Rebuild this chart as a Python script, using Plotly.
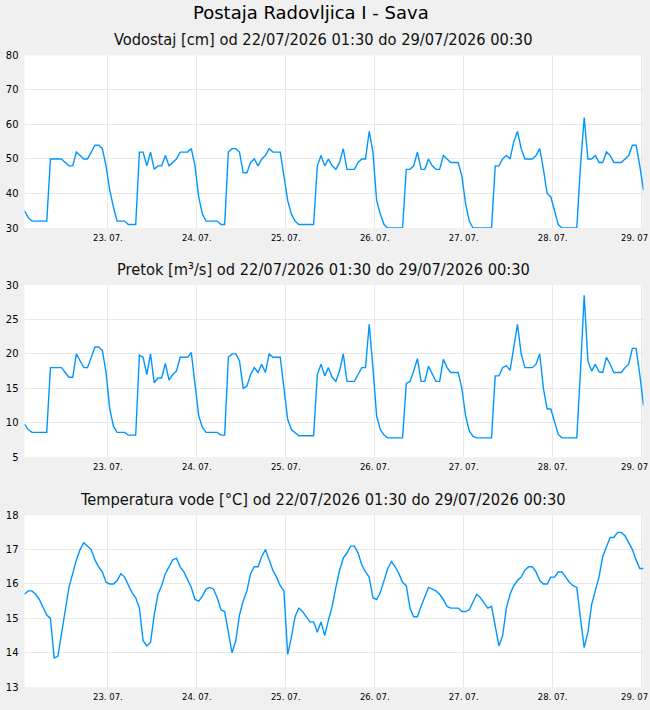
import pandas as pd
import plotly.graph_objects as go

# ---------------- data (hourly, 22/07/2026 01:30 .. 29/07/2026 00:30) ----------------
start_time = "2026-07-22 01:30"
end_time = "2026-07-29 00:30"

vodostaj_cm = [
    35, 33, 32, 32, 32, 32, 32, 50, 50, 50, 50, 49, 48, 48, 52, 51, 50, 50, 52, 54,
    54, 53, 48, 41, 36, 32, 32, 32, 31, 31, 31, 52, 52, 48, 52, 47, 48, 48, 51, 48,
    49, 50, 52, 52, 52, 53, 48, 39, 34, 32, 32, 32, 32, 31, 31, 52, 53, 53, 52, 46,
    46, 49, 50, 48, 50, 51, 53, 52, 52, 52, 45, 38, 34, 32, 31, 31, 31, 31, 31, 48,
    51, 48, 50, 48, 47, 49, 53, 47, 47, 47, 49, 50, 50, 58, 52, 38, 34, 31, 30, 30,
    30, 30, 30, 47, 47, 48, 52, 47, 47, 50, 48, 47, 47, 51, 50, 49, 49, 49, 45, 37,
    32, 30, 30, 30, 30, 30, 30, 48, 48, 50, 51, 50, 55, 58, 53, 50, 50, 50, 51, 53,
    47, 40, 39, 35, 31, 30, 30, 30, 30, 30, 48, 62, 50, 50, 51, 49, 49, 52, 51, 49,
    49, 49, 50, 51, 54, 54, 48, 41,
]

pretok_m3s = [
    9.8, 9.0, 8.6, 8.6, 8.6, 8.6, 8.6, 18.0, 18.0, 18.0, 18.0, 17.3, 16.6, 16.6, 20.0, 19.0, 18.0, 18.0, 19.5, 21.0,
    21.0, 20.5, 17.3, 12.0, 9.5, 8.6, 8.6, 8.6, 8.2, 8.2, 8.2, 19.8, 19.5, 17.0, 20.0, 15.8, 16.5, 16.5, 18.6, 16.2,
    17.0, 17.5, 19.5, 19.5, 19.5, 20.2, 16.0, 11.0, 9.3, 8.6, 8.6, 8.6, 8.6, 8.2, 8.2, 19.5, 20.0, 20.0, 19.0, 15.0,
    15.3, 17.0, 18.0, 17.3, 18.5, 17.3, 20.0, 19.5, 19.5, 19.5, 15.0, 10.5, 9.0, 8.5, 8.1, 8.1, 8.1, 8.1, 8.1, 17.0,
    18.5, 16.8, 18.0, 16.6, 16.0, 17.5, 20.0, 16.0, 16.0, 16.0, 17.0, 18.0, 18.0, 24.3, 18.0, 11.0, 9.0, 8.2, 7.8, 7.8,
    7.8, 7.8, 7.8, 15.7, 16.0, 17.5, 19.3, 16.0, 16.0, 18.2, 17.0, 16.0, 16.0, 19.2, 18.0, 17.3, 17.3, 17.3, 15.0, 11.0,
    8.8, 8.0, 7.8, 7.8, 7.8, 7.8, 7.8, 16.8, 16.8, 18.0, 18.3, 17.6, 21.0, 24.3, 20.0, 18.0, 18.0, 18.0, 18.5, 20.0,
    15.0, 12.0, 12.0, 10.0, 8.3, 7.8, 7.8, 7.8, 7.8, 7.8, 17.5, 28.5, 19.0, 17.5, 18.5, 17.4, 17.3, 19.5, 18.5, 17.3,
    17.3, 17.3, 18.0, 18.5, 20.8, 20.8, 17.0, 12.5,
]

temperatura_c = [
    15.7, 15.8, 15.8, 15.7, 15.55, 15.3, 15.1, 15.0, 13.85, 13.9, 14.6, 15.3, 15.9, 16.3, 16.7, 17.0, 17.2, 17.1, 17.0, 16.7,
    16.5, 16.35, 16.05, 16.0, 16.0, 16.1, 16.3, 16.2, 15.95, 15.75, 15.6, 15.3, 14.35, 14.2, 14.3, 15.1, 15.7, 15.95, 16.3, 16.5,
    16.7, 16.75, 16.5, 16.35, 16.1, 15.9, 15.55, 15.5, 15.65, 15.85, 15.9, 15.85, 15.6, 15.25, 15.2, 14.6, 14.0, 14.35, 15.1, 15.5,
    15.8, 16.3, 16.5, 16.5, 16.8, 17.0, 16.7, 16.4, 16.2, 15.95, 15.8, 13.95, 14.45, 15.05, 15.3, 15.2, 15.05, 14.9, 14.9, 14.6,
    14.9, 14.5, 14.95, 15.35, 15.9, 16.4, 16.75, 16.9, 17.1, 17.1, 16.9, 16.55, 16.35, 16.2, 15.6, 15.55, 15.75, 16.1, 16.45, 16.65,
    16.5, 16.3, 16.05, 15.95, 15.3, 15.05, 15.05, 15.35, 15.6, 15.9, 15.85, 15.8, 15.7, 15.55, 15.35, 15.3, 15.3, 15.3, 15.2, 15.2,
    15.25, 15.5, 15.7, 15.6, 15.45, 15.3, 15.35, 14.8, 14.2, 14.5, 15.3, 15.7, 15.95, 16.1, 16.2, 16.4, 16.5, 16.5, 16.35, 16.1,
    16.0, 16.0, 16.2, 16.2, 16.35, 16.35, 16.2, 16.05, 15.95, 15.9, 15.0, 14.15, 14.6, 15.4, 15.8, 16.2, 16.8, 17.1, 17.35, 17.35,
    17.5, 17.5, 17.4, 17.2, 17.0, 16.7, 16.45, 16.45,
]

day_ticks = ["2026-07-23", "2026-07-24", "2026-07-25", "2026-07-26",
             "2026-07-27", "2026-07-28", "2026-07-29"]
day_labels = ["23. 07.", "24. 07.", "25. 07.", "26. 07.", "27. 07.", "28. 07.", ""]
last_label = "29. 07"

main_title = "Postaja Radovljica I - Sava"
sub_titles = [
    "Vodostaj [cm] od 22/07/2026 01:30 do 29/07/2026 00:30",
    "Pretok [m³/s] od 22/07/2026 01:30 do 29/07/2026 00:30",
    "Temperatura vode [°C] od 22/07/2026 01:30 do 29/07/2026 00:30",
]
y_ranges = [(30, 80, 10), (5, 30, 5), (13, 18, 1)]

# ---------------- figure ----------------
times = pd.date_range(start_time, periods=len(vodostaj_cm), freq="h")
series = [vodostaj_cm, pretok_m3s, temperatura_c]

W, H = 650, 710
LINE = "#0096ff"
GRID = "#e8e8e8"
BG = "#f0f0f0"
FONT = "DejaVu Sans"
SUBFONT = "DejaVu Sans Condensed, DejaVu Sans"


def vy(px):
    # target pixel row -> figure row (the page is slightly squeezed vertically when captured)
    return (px - 6.1) / 0.9826


x_dom = [24.5 / W, 643.5 / W]
panels_px = [(55.5, 228), (285, 457), (515, 687)]

fig = go.Figure()
layout = dict(
    width=W, height=H,
    margin=dict(l=0, r=0, t=0, b=0),
    paper_bgcolor=BG,
    plot_bgcolor="#ffffff",
    showlegend=False,
    font=dict(family=FONT, color="#000000"),
)

annotations = [dict(text=main_title, x=311 / W, y=1 - vy(13) / H, xref="paper", yref="paper",
                    showarrow=False, xanchor="center", yanchor="middle",
                    font=dict(family=FONT, size=18, color="#000000"))]
shapes = []

for i, (vals, (top, bot), (y0, y1, dy)) in enumerate(zip(series, panels_px, y_ranges)):
    n = "" if i == 0 else str(i + 1)
    fig.add_trace(go.Scatter(x=times, y=vals, mode="lines", line=dict(color=LINE, width=1.4, shape="linear"),
                             xaxis="x" + n, yaxis="y" + n, hoverinfo="skip"))
    layout["xaxis" + n] = dict(
        domain=x_dom, anchor="y" + n, type="date",
        range=[start_time, end_time],
        tickmode="array", tickvals=day_ticks, ticktext=day_labels,
        showgrid=True, gridcolor=GRID, gridwidth=1, zeroline=False, showline=False,
        ticks="", ticklabelstandoff=3, tickfont=dict(family=FONT, size=8.5, color="#000000"),
    )
    layout["yaxis" + n] = dict(
        domain=[1 - vy(bot) / H, 1 - vy(top) / H], anchor="x" + n,
        range=[y0, y1], dtick=dy, tick0=y0,
        showgrid=True, gridcolor=GRID, gridwidth=1, zeroline=False, showline=False,
        ticks="", ticklabelstandoff=5, tickfont=dict(family=FONT, size=10, color="#000000"),
    )
    annotations.append(dict(text=sub_titles[i], x=323 / W, y=1 - vy(top - 15.5) / H, xref="paper", yref="paper",
                            showarrow=False, xanchor="center", yanchor="middle",
                            font=dict(family=SUBFONT, size=16.3, color="#111111")))
    annotations.append(dict(text=last_label, x=649.5 / W, xref="paper", y=1 - vy(bot + 10) / H, yref="paper",
                            showarrow=False, xanchor="right", yanchor="middle",
                            font=dict(family=FONT, size=8.5, color="#000000")))
    shapes.append(dict(type="line", xref="x" + n + " domain", yref="y" + n + " domain",
                       x0=0.9992, x1=0.9992, y0=0, y1=1, line=dict(color=GRID, width=1), layer="below"))

layout["annotations"] = annotations
layout["shapes"] = shapes
fig.update_layout(**layout)
fig.write_html("out.html",
               post_script="document.body.style.margin='0';document.body.style.background='%s';" % BG)
